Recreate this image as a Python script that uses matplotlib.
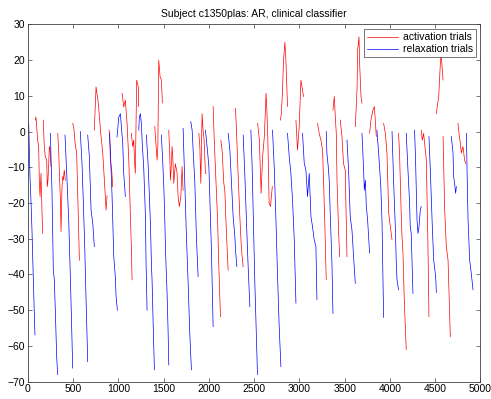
import matplotlib
matplotlib.use("Agg")
import matplotlib.pyplot as plt
from matplotlib.lines import Line2D

plt.rcParams["font.family"] = ["Liberation Sans", "DejaVu Sans"]
plt.rcParams["font.size"] = 7.5

# trial type per segment: "a" = activation, "r" = relaxation
trial_kind = [
    "r", "a", "a", "r", "a", "r", "a", "r", "r", "a",
    "a", "r", "r", "a", "a", "r", "r", "a", "r", "a",
    "r", "r", "a", "r", "a", "a", "r", "a", "r", "r",
    "a", "r", "a", "r", "a", "r", "a", "r", "a", "a",
    "r", "a", "r", "a", "r", "a", "r", "a", "r", "r",
    "a", "r", "a", "a", "r", "a", "r",
]

# sample index of the points, one list per trial
trial_x = [
    [8, 14, 22, 30, 44, 59, 70, 77],
    [81, 88, 96, 107, 118, 125, 133, 144, 155, 163],
    [169, 180, 191, 207, 213, 221, 229, 236, 243, 254],
    [247, 265, 280, 291, 302, 317, 328],
    [329, 340, 347, 358, 365, 376, 384, 390, 401, 412],
    [409, 428, 450, 465, 479, 494],
    [495, 509, 520, 538, 556, 568],
    [578, 597, 612, 627, 641, 660],
    [660, 678, 697, 716, 733],
    [733, 752, 777, 804, 826, 852, 863, 874],
    [895, 903, 910, 925, 936],
    [899, 910, 929, 948, 966, 973, 988],
    [984, 1003, 1021, 1032, 1047, 1058, 1076],
    [1040, 1058, 1076, 1084, 1095, 1114, 1131, 1142, 1150],
    [1142, 1157, 1168, 1179, 1186, 1201, 1219, 1223],
    [1224, 1231, 1242, 1253, 1261, 1280, 1297, 1305, 1316],
    [1308, 1327, 1342, 1353, 1364, 1371, 1382, 1397],
    [1401, 1408, 1416, 1427, 1435, 1445, 1460, 1475, 1485],
    [1474, 1490, 1501, 1512, 1518, 1526, 1537, 1548, 1556],
    [1556, 1567, 1574, 1585, 1592, 1600, 1611, 1629, 1648, 1659, 1673, 1689, 1703, 1714],
    [1714, 1733, 1751, 1770, 1788, 1806],
    [1799, 1814, 1825, 1844, 1861, 1880],
    [1888, 1899, 1910, 1924, 1935, 1946, 1961, 1969],
    [1961, 1983, 1999, 2010, 2027, 2046],
    [2046, 2057, 2072, 2094, 2109, 2127],
    [2131, 2145, 2164, 2175, 2193, 2212],
    [2212, 2231, 2249, 2267, 2286, 2293, 2308],
    [2293, 2304, 2323, 2341, 2359, 2378],
    [2378, 2397, 2415, 2433, 2452],
    [2463, 2477, 2495, 2507, 2518, 2536],
    [2538, 2557, 2576, 2593, 2612, 2631, 2640, 2650, 2665, 2680, 2700],
    [2702, 2721, 2740, 2757, 2776, 2795],
    [2790, 2800, 2813, 2824, 2839, 2850, 2868],
    [2868, 2887, 2905, 2923, 2942, 2961],
    [2961, 2978, 2997, 3016, 3034, 3045],
    [3034, 3053, 3071, 3089, 3108, 3127, 3144, 3163, 3182, 3193],
    [3200, 3218, 3237, 3255, 3266, 3281, 3292, 3296],
    [3296, 3303, 3318, 3329, 3340, 3359, 3370],
    [3370, 3385, 3396, 3407, 3415, 3432, 3444],
    [3451, 3470, 3487, 3506, 3525],
    [3525, 3543, 3561, 3580, 3598, 3617],
    [3617, 3636, 3643, 3658, 3665, 3680, 3691],
    [3691, 3709, 3717, 3728, 3739, 3753, 3775],
    [3775, 3790, 3812, 3827, 3838, 3849],
    [3856, 3875, 3893, 3900, 3912, 3930],
    [3930, 3949, 3967, 3986, 4004, 4023],
    [4023, 4040, 4059, 4070, 4078, 4095],
    [4095, 4106, 4122, 4133, 4144, 4158, 4180],
    [4180, 4199, 4217, 4224, 4235, 4254],
    [4272, 4283, 4299, 4310, 4321, 4335, 4346],
    [4346, 4357, 4372, 4383, 4402, 4420, 4431],
    [4431, 4446, 4468, 4483, 4505, 4513],
    [4513, 4528, 4539, 4557, 4565, 4576, 4587],
    [4587, 4605, 4623, 4642, 4653, 4667],
    [4678, 4697, 4704, 4715, 4726, 4734],
    [4752, 4763, 4778, 4789, 4807, 4825, 4836],
    [4845, 4852, 4863, 4881, 4900, 4918],
]

# classifier output at those points
trial_y = [
    [2.3, -4.2, -12.6, -17.3, -27.5, -41.5, -50.9, -56.9],
    [3.2, 4.1, 1.4, -2.4, -4.2, -13.6, -18.2, -11.7, -22.8, -28.5],
    [3.2, -4.2, -7, -8, -15.4, -13.6, -9, -4.2, -4.7, -9.8],
    [-0.5, -16.4, -38.8, -41.5, -50, -63, -68],
    [-0.5, -6, -11.7, -19, -28, -15.4, -12.6, -13.6, -10.8, -13.6],
    [-1, -11.7, -24.7, -37.8, -50.9, -66.2],
    [2.3, 0.4, -3.2, -6, -23.8, -36],
    [0, -8.9, -20.1, -32.2, -46.2, -64.4],
    [-1, -7, -22, -25.7, -32.2],
    [0.4, 12.5, 8, -0.5, -6, -17, -22, -18],
    [0.4, -0.5, -8, -10.8, -15.4],
    [-0.5, -5, -18, -35, -41, -46, -50],
    [-1.5, 4, 5, 1.4, -3.3, -11.7, -18.2],
    [10.7, 6.9, 8.8, 6, 2.3, -8, -23, -32, -41.5],
    [-0.5, -4.2, -2.4, -8.9, -11.7, 14.4, 12.5, 7],
    [0.4, 4.1, 5, 2.3, -2.4, -10.8, -23, -37, -50],
    [-1, -9, -18.2, -25.7, -37, -41.5, -52.7, -66.7],
    [1.4, -1.4, -4.2, -8, -4.2, 20, 15.3, 14.4, 8],
    [-1, -9, -15.4, -24.7, -31.3, -37.8, -45.3, -55.5, -65.3],
    [0.4, -7, -13.6, -9, -4.2, -7, -14.5, -9, -11.7, -18.2, -21, -18.2, -9.8, -16.4],
    [0.9, -14.5, -29.4, -42.5, -56.5, -66.7],
    [2.8, 0.4, -5.2, -14.5, -29.4, -40.6],
    [-0.5, -4.2, -14.5, 5, 0.4, -2.4, -11.7, -11.7],
    [0.4, -5.2, -9.8, -19, -33, -54.6],
    [7, -1.4, -10.8, -23.8, -37.8, -51.8],
    [-2.4, -5.2, -14.5, -16.4, -28.5, -38.8],
    [-0.5, -5.2, -14.5, -23.8, -29.4, -33, -37.8],
    [6.5, 0.4, -12.6, -23.8, -33, -37.8],
    [-1, -12.6, -25.7, -37.8, -49],
    [0.4, -9.8, -29.4, -42.5, -52, -68],
    [2.3, -2.4, -17.3, -7, -1.4, 10.7, 6, -1.4, -20, -21, -15.4],
    [0.4, -9.8, -24.7, -39.7, -54.6, -65.8],
    [3.2, 5, 11.6, 20, 25, 20, 7],
    [-0.5, -7, -11.7, -19, -30, -48],
    [3.2, -5.2, 1.4, 14.4, 11.6, 9.8],
    [-0.5, -8.9, -10.8, -18.2, -11.7, -23.8, -26.6, -30.3, -32.2, -47],
    [2.3, -0.5, -2.4, -5.2, -13.6, -26.6, -37.8, -41.5],
    [0, -6, -9.8, -13.6, -23, -36.9, -50.9],
    [6, 9.8, 4.1, -0.5, -13.6, -27.5, -35],
    [3.2, -1.5, -9, -10.8, -35],
    [-2.4, -10.8, -23.8, -27.5, -35, -42.5],
    [1.4, 11.6, 22.8, 26.5, 19, 9.8, 7.9],
    [-0.5, -10.8, -16.4, -13.6, -21, -24.7, -34],
    [-0.5, 3.2, 6, 7, 3.2, -1.4],
    [0.4, -6, -13, -16, -25, -52],
    [2.3, -0.5, -6, -22.8, -26.6, -30.3],
    [0, -13.6, -26.6, -36.9, -41.5, -44.3],
    [-0.5, -6, -21, -29.4, -34, -47, -61],
    [-0.5, -10.8, -20, -26.6, -28.5, -45.3],
    [0.4, -8, -24.7, -28.5, -26.6, -22, -21],
    [0.4, -2.4, -0.5, -3.3, -8, -32.2, -51.8],
    [-1.4, -10.8, -26.6, -35.9, -40.6, -45],
    [5, 7.9, 9.8, 19.1, 21.9, 18.1, 14.4],
    [-1.4, -22, -32.2, -36, -45.3, -57.4],
    [-1.4, -6, -12.6, -14.6, -17.3, -15.4],
    [2.3, -0.5, -3.3, -6, -4.2, -8, -8.9],
    [-0.5, -10.8, -24.7, -36, -40, -44.3],
]

kind_color = {"a": "r", "r": "b"}
kind_label = {"a": "activation trials", "r": "relaxation trials"}

fig = plt.figure(figsize=(4.91, 3.99), dpi=100)
ax = fig.add_axes([0.057, 0.0434, 0.9215, 0.8956])

for kind, xs, ys in zip(trial_kind, trial_x, trial_y):
    ax.plot(xs, ys, color=kind_color[kind], linewidth=0.5)

ax.set_xlim(0, 5000)
ax.set_ylim(-70, 30)
ax.set_xticks(range(0, 5001, 500))
ax.set_yticks(range(-70, 31, 10))
ax.tick_params(direction="in", top=True, right=True, length=3, width=0.5,
               colors="#404040", labelcolor="black", pad=2)
for sp in ax.spines.values():
    sp.set_color("#404040")
    sp.set_linewidth(0.6)

ax.set_title("Subject c1350plas: AR, clinical classifier", fontsize=7.5, pad=5)

handles = [Line2D([], [], color=kind_color[k], linewidth=0.5) for k in ("a", "r")]
leg = ax.legend(handles, [kind_label["a"], kind_label["r"]], loc="upper right",
                fancybox=False, framealpha=1, edgecolor="#404040",
                handlelength=3.0, handletextpad=0.4, labelspacing=0.2,
                borderpad=0.3, borderaxespad=0.45)
leg.get_frame().set_linewidth(0.5)

fig.savefig("out.png", dpi=100)
